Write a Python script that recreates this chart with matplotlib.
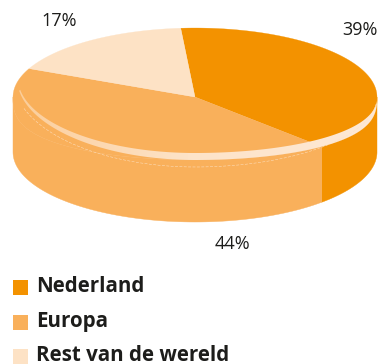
import matplotlib
matplotlib.use('Agg')
import matplotlib.pyplot as plt
from matplotlib.colors import LinearSegmentedColormap
from matplotlib.patches import Polygon, Rectangle
import numpy as np

categories = ['Nederland', 'Europa', 'Rest van de wereld']
shares = [39, 44, 17]
colors = ['#f39200', '#f9b05b', '#fde2c5']
label_pos = [(360, 30), (232, 244), (59, 21)]

start_angle = 94.5
cx, cy = 195, 97
rx = 182


def rim(t):
    # outer edge of the top face; the front half bulges more than an ellipse
    t = np.radians(t)
    s = np.sin(t)
    y = np.where(s > 0, cy - 69 * s, cy + 63 * np.abs(s) ** 0.72)
    return np.column_stack([cx + rx * np.cos(t), y])


def base(t):
    t = np.radians(t)
    return np.column_stack([cx + rx * np.cos(t), 152 - 70 * np.sin(t)])


def band_edge(t, left, right):
    # front lip of the disc, left and right parts have different curves
    t = np.radians(t)
    c, s = np.cos(t), np.abs(np.sin(t))
    x = np.where(c < 0, cx + left[0] * c, cx + right[0] * c)
    y = np.where(c < 0, left[1] + left[2] * s, right[1] + right[2] * s ** right[3])
    return np.column_stack([x, y])


fig = plt.figure(figsize=(3.8, 3.64), dpi=100)
ax = fig.add_axes([0, 0, 1, 1])

# angles of the slice borders, clockwise from the start angle
borders = start_angle - np.cumsum([0] + shares) * 3.6

# side wall, only the part facing the viewer
for i in [0, 1]:
    t0, t1 = max(borders[i + 1], -180), min(borders[i], 0)
    t = np.linspace(t1, t0, 80)
    wall = np.vstack([rim(t), base(t)[::-1]])
    ax.add_patch(Polygon(wall, fc=colors[i], ec=colors[i], lw=0.3))

# top face
for i in range(3):
    t = np.linspace(borders[i], borders[i + 1], 120)
    face = np.vstack([[[cx, cy]], rim(t)])
    ax.add_patch(Polygon(face, fc=colors[i], ec=colors[i], lw=0.2))

# light lip along the front of the top face
t = np.linspace(-171, -3, 200)
upper = band_edge(t, (177, 78, 75), (182, 97, 56, 0.9))
lower = band_edge(t, (178, 78, 82), (182, 97, 63, 0.72))
tip = upper[:1]
lip = Polygon(np.vstack([tip, upper, lower[::-1]]), fc='none', ec='none')
ax.add_patch(lip)
lip_cmap = LinearSegmentedColormap.from_list(
    'lip', [(0, '#fbcd98'), (0.12, '#fcd3a6'), (0.48, '#fde3c8'), (1, '#fee9d5')])
im = ax.imshow(np.linspace(0, 1, 256)[None, :], cmap=lip_cmap, aspect='auto',
               extent=(13, 377, 165, 70), zorder=3)
im.set_clip_path(lip)

# thin seam on the side wall
t = np.linspace(-160, -6, 200)
seam = band_edge(t, (182, 78, 89), (182, 97, 70, 1.0))
ax.plot(seam[:, 0], seam[:, 1], color='#fde2c5', lw=0.35, ls=(0, (6, 3)), zorder=3)

ax.set_xlim(0, 380)
ax.set_ylim(364, 0)
ax.axis('off')

for share, pos in zip(shares, label_pos):
    ax.text(pos[0], pos[1], '{0}%'.format(share), ha='center', va='center',
            fontsize=13, color='#1d1d1b', family='Open Sans')

for i, name in enumerate(categories):
    top = 280 + i * 34.5
    ax.add_patch(Rectangle((13, top), 15, 15, fc=colors[i], ec='none'))
    ax.text(36, top + 7 - i * 0.4, name, ha='left', va='center', fontsize=14.8,
            fontweight='bold', color='#1d1d1b', family='Open Sans')

fig.savefig('out.png', dpi=100)
